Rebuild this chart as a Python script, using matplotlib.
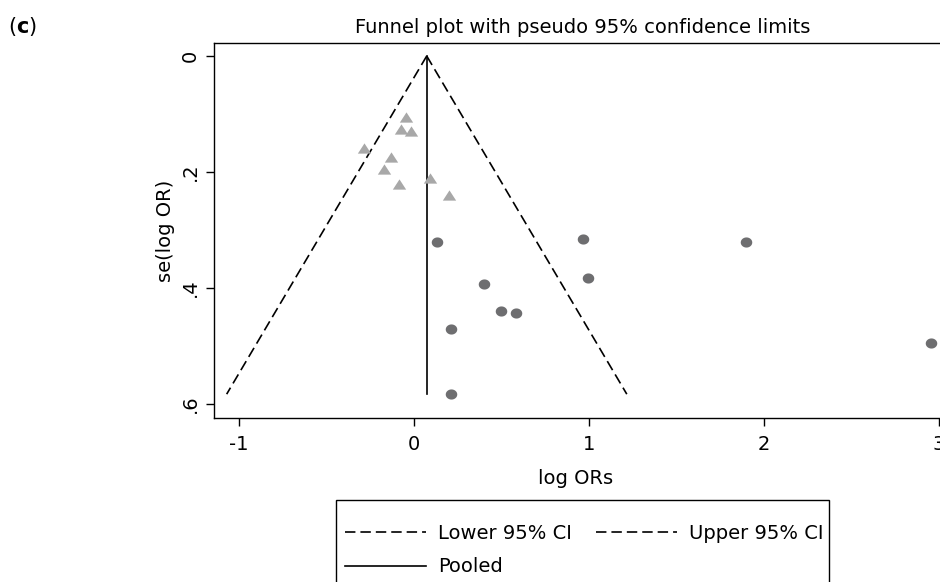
import numpy as np
import matplotlib.pyplot as plt
from matplotlib.lines import Line2D
from matplotlib.patches import Rectangle

plt.rcParams['font.family'] = ['DejaVu Sans']
plt.rcParams['axes.unicode_minus'] = False
plt.rcParams['lines.scale_dashes'] = False

# pooled log OR and largest se (funnel is pooled +/- 1.96*se)
pooled = 0.074
se_max = 0.583

# grey triangles
tri_logor = [-0.045, -0.075, -0.016, -0.284, -0.130, -0.168, -0.086, 0.093, 0.199]
tri_se = [0.105, 0.126, 0.129, 0.158, 0.174, 0.195, 0.221, 0.211, 0.239]

# dark dots
dot_logor = [0.131, 0.211, 0.211, 0.965, 0.993, 0.401, 0.498, 0.582, 1.897, 2.952]
dot_se = [0.321, 0.471, 0.582, 0.316, 0.382, 0.393, 0.439, 0.443, 0.321, 0.494]

xticks = [-1, 0, 1, 2, 3]
xticklabels = ["-1", "0", "1", "2", "3"]
yticks = [0, 0.2, 0.4, 0.6]
yticklabels = ["0", ".2", ".4", ".6"]

W, H = 940, 582
fs = 14
dash = (7.5, 3.6)

fig = plt.figure(figsize=(W / 100, H / 100), dpi=100)
# plot region runs past the right edge of the picture (as in the original crop)
ax = fig.add_axes([214 / W, (H - 418) / H, (952 - 214) / W, (418 - 43) / H])

se_line = np.array([0, se_max])
ax.plot(pooled - 1.96 * se_line, se_line, color='black', lw=1.2, dashes=dash)
ax.plot(pooled + 1.96 * se_line, se_line, color='black', lw=1.2, dashes=dash)
ax.plot([pooled, pooled], se_line, color='black', lw=1.2)

tri = [(0, 0.77), (-1, -0.77), (1, -0.77), (0, 0.77)]
t = np.linspace(0, 2 * np.pi, 41)
ell = list(zip(np.cos(t), 0.88 * np.sin(t)))
ax.plot(tri_logor, tri_se, ls='none', marker=tri, ms=9.6, mfc='#a8a8a8', mec='none')
ax.plot(dot_logor, dot_se, ls='none', marker=ell, ms=8.3, mfc='#6e6e70', mec='none')

ax.set_xlim(-1.141, 3.074)
ax.set_ylim(0.6241, -0.0224)
ax.set_xticks(xticks)
ax.set_xticklabels(xticklabels, fontsize=fs)
ax.set_yticks(yticks)
ax.set_yticklabels(yticklabels, fontsize=fs, rotation=90, va='center')
ax.tick_params(direction='out', length=6, width=1, pad=6.5, color='black')
ax.tick_params(axis='y', pad=4)
for s in ax.spines.values():
    s.set_linewidth(1.0)
    s.set_color('black')

ax.set_title("Funnel plot with pseudo 95% confidence limits", fontsize=fs, pad=7)
ax.set_xlabel("log ORs", fontsize=fs)
ax.xaxis.set_label_coords(0.49, -0.135)
ax.set_ylabel("se(log OR)", fontsize=fs)
ax.yaxis.set_label_coords(-0.053, 0.5)

fig.text(8 / W, 1 - 27 / H, r"($\mathbf{c}$)", fontsize=fs + 1, va='center', ha='left')

handles = [Line2D([], [], color='black', lw=1.2, dashes=dash),
           Line2D([], [], color='black', lw=1.2),
           Line2D([], [], color='black', lw=1.2, dashes=dash)]
labels = ['Lower 95% CI', 'Pooled', 'Upper 95% CI']
fig.legend(handles, labels, ncol=2, loc='upper left', frameon=False,
           bbox_to_anchor=(345 / W, 1 - 524 / H), borderaxespad=0, borderpad=0,
           fontsize=fs, handlelength=4.17, handletextpad=0.62,
           columnspacing=1.24, labelspacing=0.74)
fig.add_artist(Rectangle((336 / W, -0.1), (829 - 336) / W, 0.1 + 1 - 500 / H,
                         transform=fig.transFigure, fill=False, lw=1.0, ec='black'))

fig.savefig("out.png", dpi=100)
